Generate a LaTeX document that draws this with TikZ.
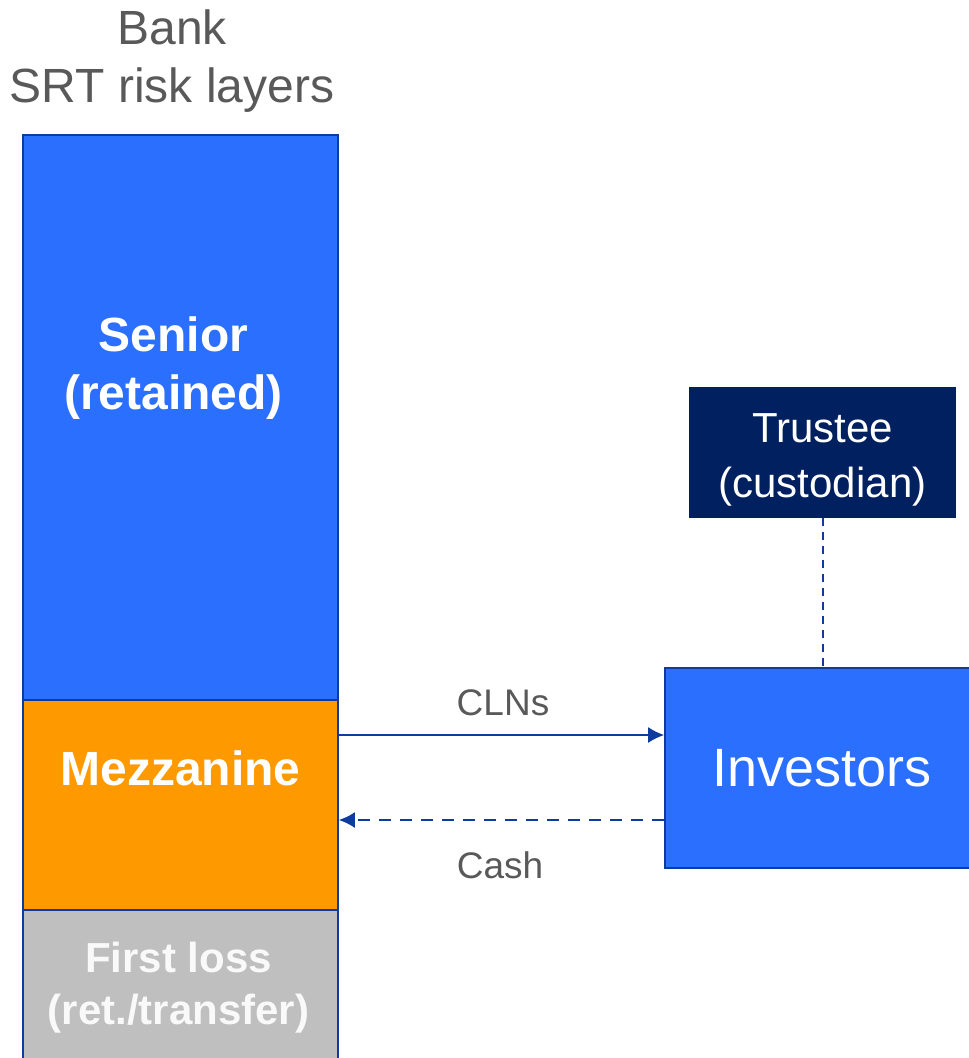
\documentclass[tikz,border=0pt]{standalone}
\usepackage{fontspec}
\setmainfont{Liberation Sans}
\usetikzlibrary{positioning, arrows.meta}
\definecolor{layerblue}{HTML}{2B6FFF}
\definecolor{layerorange}{HTML}{FF9900}
\definecolor{layergray}{HTML}{BFBFBF}
\definecolor{navy}{HTML}{002060}
\definecolor{edgeblue}{HTML}{0D3C9E}
\definecolor{textgray}{HTML}{595959}

\begin{document}
\begin{tikzpicture}[x=0.5pt, y=-0.5pt, >={Latex[length=8pt,width=8pt]},
    layer/.style={draw=edgeblue, line width=0.8pt, minimum width=157.5pt, inner sep=0pt},
    layertext/.style={align=center, text=white, font=\bfseries\fontsize{24}{29}\selectfont},
    party/.style={draw=edgeblue, line width=0.8pt, inner sep=0pt, align=center, text=white},
    note/.style={text=textgray, font=\fontsize{18.5}{22}\selectfont},
    flow/.style={edgeblue, line width=1pt}]
  \useasboundingbox (0,0) rectangle (968,1058);
  % risk layers
  \node (senior) at (180.5,417.5) [layer, fill=layerblue, minimum height=282.5pt] {};
  \node (mezz) at (180.5,805) [layer, fill=layerorange, minimum height=105pt] {};
  \node (firstloss) at (180.5,985) [layer, fill=layergray, minimum height=75pt] {};
  \node (seniortext) at ([xshift=-3.5pt, yshift=24.75pt]senior.center) [layertext] {Senior\\(retained)};
  \node (mezztext) at ([yshift=18.5pt]mezz.center) [layertext] {Mezzanine};
  \node (firstlosstext) at ([xshift=-1pt, yshift=-1.5pt]firstloss.center) [layertext, text=white!95!gray,
    font=\bfseries\fontsize{21}{26}\selectfont] {First loss\\(ret./transfer)};
  \node (title) at (172,61) [text=textgray, align=center, font=\fontsize{24}{29}\selectfont] {Bank\\SRT risk layers};
  % counterparties
  \node (trustee) at (822.5,452.5) [party, fill=navy, draw=navy, minimum width=132.5pt, minimum height=64.5pt] {};
  \node (trusteetext) at ([yshift=-3.5pt]trustee.center) [text=white, align=center,
    font=\fontsize{21}{27.5}\selectfont] {Trustee\\(custodian)};
  \node (investors) at (820,768) [party, fill=layerblue, minimum width=155pt, minimum height=100pt,
    font=\fontsize{27}{32}\selectfont] {\hspace{2pt}Investors};
  \draw [flow, dashed, dash pattern=on 4pt off 3pt] (trustee.south) -- (trustee.south |- investors.north);
  % flows
  \draw [flow, ->] (mezz.east |- 0,735) -- (investors.west |- 0,735);
  \draw [flow, ->, dash pattern=on 6pt off 4.5pt] (investors.west |- 0,820) -- (mezz.east |- 0,820);
  \node (clns) at (503,703) [note] {CLNs};
  \node (cash) at (500,865) [note] {Cash};
\end{tikzpicture}
\end{document}
